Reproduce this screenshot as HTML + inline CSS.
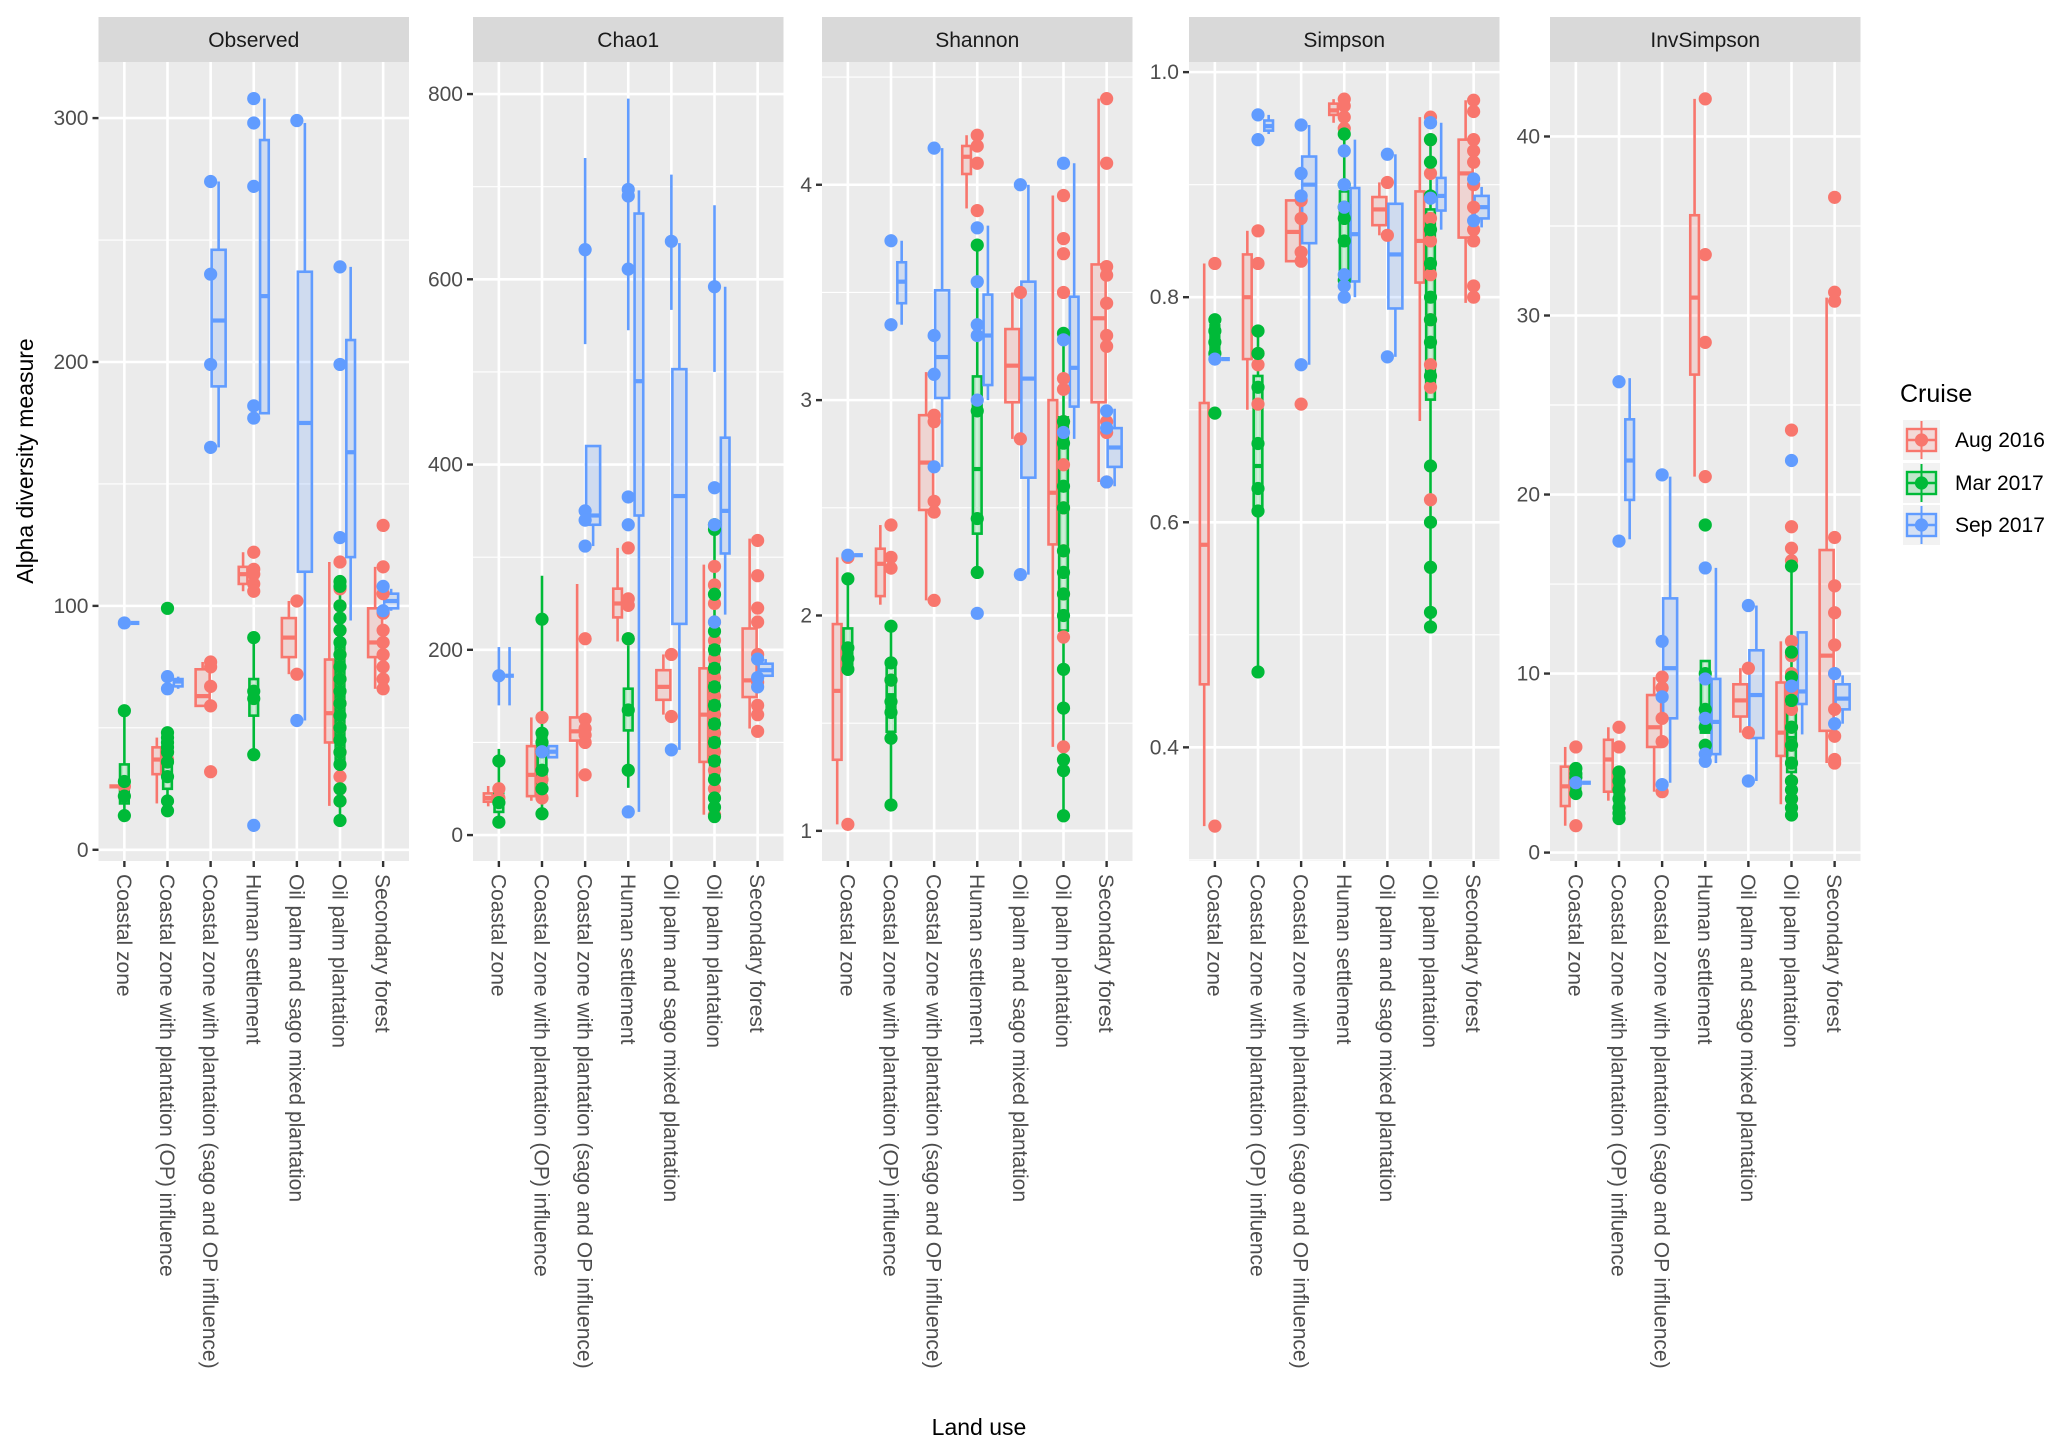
<!DOCTYPE html>
<html><head><meta charset="utf-8"><style>
html,body{margin:0;padding:0;background:#fff;}
svg{display:block;font-family:"Liberation Sans",Arial,sans-serif;}
</style></head><body>
<svg id="chart" width="2067" height="1455" viewBox="0 0 2067 1455" xmlns="http://www.w3.org/2000/svg">
<text x="0" y="0" transform="translate(33,461) rotate(-90)" text-anchor="middle" font-size="23" fill="#000">Alpha diversity measure</text>
<text x="979" y="1435" text-anchor="middle" font-size="23" fill="#000">Land use</text>
<g>
<text x="1900" y="402" font-size="25" fill="#000">Cruise</text>
</g>
</svg>
<script>
const categories = ["Coastal zone","Coastal zone with plantation (OP) influence","Coastal zone with plantation (sago and OP influence)","Human settlement","Oil palm and sago mixed plantation","Oil palm plantation","Secondary forest"];
const cruises = ["Aug 2016","Mar 2017","Sep 2017"];
const metrics = ["Observed","Chao1","Shannon","Simpson","InvSimpson"];
const yTicks = [[0,100,200,300],[0,200,400,600,800],[1,2,3,4],[0.4,0.6,0.8,1.0],[0,10,20,30,40]];
const yTickLabels = [["0","100","200","300"],["0","200","400","600","800"],["1","2","3","4"],["0.4","0.6","0.8","1.0"],["0","10","20","30","40"]];
const yMinor = [[50,150,250],[100,300,500,700],[1.5,2.5,3.5,4.5],[0.3,0.5,0.7,0.9],[5,15,25,35]];
const yDomain = [[-4.6,323],[-28,834.6],[0.86,4.57],[0.299,1.009],[-0.47,44.16]];

const obsBoxes = [
 [[26,26,26,26,26],[14,19,27,35,57],[93,93,93,93,93]],
 [[19,31,37,42,46],[15,25,38,48,48],[66,67,69,70,71]],
 [[59,59,63,74,77],null,[165,190,217,246,274]],
 [[106,109,113,116,122],[39,55,64,70,87],[179,179,227,291,308]],
 [[72,79,87,95,102],null,[53,114,175,237,298]],
 [[18,44,56,78,118],[12,35,63,85,110],[94,120,163,209,239]],
 [[66,79,85,99,116],null,[98,99,102,105,107]]];
const obsPoints = [
 [[26],[57,14,22,28],[93]],
 [[37,40],[99,48,46,44,42,40,36,30,20,16],[71,66]],
 [[77,75,67,59,32],[],[274,236,199,165]],
 [[122,115,113,109,106],[87,65,62,39],[308,298,272,182,177,10]],
 [[102,72],[],[299,53]],
 [[118,107,100,90,80,70,60,50,40,30,25,20],[110,108,100,95,90,85,80,75,70,65,60,55,50,45,40,35,25,20,12],[239,199,128]],
 [[133,116,105,97,90,85,80,75,70,66],[],[108,98]]];
const chaoBoxes = [
 [[31,36,40,45,53],[14,25,35,46,93],[140,172,172,172,203]],
 [[37,42,65,96,127],[23,56,90,107,280],[84,84,90,96,96]],
 [[41,102,112,127,271],null,[312,335,345,420,420]],
 [[209,235,250,266,310],[51,113,135,158,205],[25,345,490,671,696]],
 [[130,146,160,178,195],null,[92,228,366,503,639]],
 [[22,79,130,180,292],[15,65,130,204,338],[238,304,350,429,592]],
 [[115,149,167,223,320],null,[172,172,178,185,190]]];
const chaoPoints = [
 [[50,40],[80,35,14],[172]],
 [[127,60,40],[233,110,100,90,70,50,23],[90]],
 [[212,125,115,108,100,65],[],[632,350,340,312]],
 [[310,255,248,212],[212,135,70],[697,690,611,365,335,25]],
 [[195,128],[],[641,92]],
 [[290,270,250,230,210,190,170,150,130,110,90,70,50,22],[335,330,260,220,200,180,160,140,120,100,80,60,40,30,20],[592,375,335,230]],
 [[318,280,245,230,195,165,140,130,112],[],[190,170,160]]];
const chaoErrLo = [[[],[],[140]],[[],[],[]],[[],[],[530]],[[],[],[545]],[[],[],[567]],[[],[480],[500]],[[],[],[]]];
const chaoErrHi = [[[],[],[203]],[[],[],[]],[[],[],[731]],[[],[],[795]],[[],[],[713]],[[],[480],[680]],[[],[],[]]];
const shanBoxes = [
 [[1.03,1.33,1.65,1.96,2.27],[1.72,1.74,1.83,1.94,2.17],[2.28,2.28,2.28,2.28,2.28]],
 [[2.05,2.09,2.24,2.31,2.42],[1.12,1.46,1.63,1.77,1.95],[3.35,3.45,3.55,3.64,3.74]],
 [[2.07,2.49,2.71,2.93,3.13],null,[2.69,3.01,3.2,3.51,4.17]],
 [[3.89,4.05,4.13,4.18,4.23],[2.2,2.38,2.68,3.11,3.72],[3.0,3.07,3.3,3.49,3.81]],
 [[2.82,2.99,3.16,3.33,3.5],null,[2.19,2.64,3.1,3.55,4.0]],
 [[1.39,2.33,2.57,3.0,3.95],[1.07,1.93,2.6,2.92,3.31],[2.82,2.97,3.15,3.48,4.1]],
 [[2.62,2.99,3.38,3.63,4.4],null,[2.6,2.69,2.78,2.87,2.96]]];
const shanPoints = [
 [[2.27,1.03],[2.17,1.85,1.8,1.75],[2.28]],
 [[2.42,2.27,2.22,1.7],[1.95,1.78,1.7,1.6,1.55,1.43,1.12],[3.74,3.35]],
 [[2.93,2.9,2.53,2.48,2.07],[],[4.17,3.3,3.12,2.69]],
 [[4.23,4.18,4.1,3.88],[3.72,2.95,2.45,2.2],[3.8,3.55,3.35,3.3,3.0,2.01]],
 [[3.5,2.82],[],[4.0,2.19]],
 [[3.95,3.75,3.68,3.5,3.1,3.05,2.9,2.7,2.5,2.3,2.1,1.9,1.39],[3.31,2.9,2.8,2.6,2.5,2.3,2.2,2.1,2.0,1.75,1.57,1.33,1.28,1.07],[4.1,3.28,2.85]],
 [[4.4,4.1,3.62,3.58,3.45,3.3,3.25,2.9,2.85,2.62],[],[2.95,2.87,2.62]]];
const simpBoxes = [
 [[0.33,0.456,0.58,0.706,0.83],[0.743,0.743,0.76,0.775,0.782],[0.745,0.745,0.745,0.745,0.745]],
 [[0.7,0.745,0.8,0.838,0.859],[0.467,0.608,0.65,0.73,0.77],[0.945,0.948,0.952,0.957,0.962]],
 [[0.832,0.832,0.858,0.886,0.886],null,[0.74,0.848,0.9,0.925,0.953]],
 [[0.955,0.962,0.966,0.972,0.976],[0.81,0.814,0.873,0.894,0.946],[0.8,0.814,0.856,0.897,0.94]],
 [[0.855,0.864,0.878,0.889,0.902],null,[0.747,0.79,0.838,0.883,0.927]],
 [[0.69,0.813,0.85,0.894,0.96],[0.507,0.709,0.78,0.878,0.94],[0.86,0.877,0.89,0.906,0.955]],
 [[0.795,0.853,0.91,0.94,0.975],null,[0.862,0.87,0.88,0.89,0.898]]];
const simpPoints = [
 [[0.83,0.33],[0.78,0.77,0.76,0.75,0.697],[0.745]],
 [[0.859,0.83,0.75,0.74,0.705],[0.77,0.75,0.72,0.67,0.63,0.61,0.467],[0.962,0.94]],
 [[0.886,0.87,0.84,0.832,0.705],[],[0.953,0.91,0.89,0.74]],
 [[0.976,0.97,0.96,0.95],[0.945,0.9,0.88,0.87,0.85,0.815],[0.93,0.9,0.88,0.82,0.81,0.8]],
 [[0.902,0.855],[],[0.927,0.747]],
 [[0.96,0.94,0.91,0.87,0.85,0.82,0.78,0.74,0.72,0.62],[0.94,0.92,0.89,0.86,0.83,0.8,0.78,0.76,0.73,0.65,0.6,0.56,0.52,0.507],[0.955,0.955,0.888]],
 [[0.975,0.965,0.94,0.93,0.92,0.9,0.88,0.86,0.85,0.81,0.8],[],[0.905,0.868]]];
const invBoxes = [
 [[1.5,2.6,3.7,4.8,5.9],[3.2,3.2,4.2,4.7,4.7],[3.9,3.9,3.9,3.9,3.9]],
 [[2.9,3.4,5.2,6.3,7],[1.9,2.2,3.5,4.5,4.6],[17.5,19.7,21.9,24.2,26.5]],
 [[3.4,5.9,7,8.8,9.8],null,[3.9,7.5,10.3,14.2,21]],
 [[21,26.7,31,35.6,42.1],[6.7,6.7,7.7,10.7,10.7],[5,5.5,7.3,9.7,15.9]],
 [[6.7,7.6,8.5,9.4,10.3],null,[4,6.4,8.8,11.3,13.8]],
 [[2.7,5.4,6.7,9.5,11.8],[2.1,4.5,6.4,8.8,16],[6.6,8.3,9,12.3,12.3]],
 [[5,6.8,11,16.9,31],null,[7.2,8,8.6,9.4,9.9]]];
const invPoints = [
 [[5.9,1.5],[4.7,4.4,4.2,3.3],[3.9]],
 [[7,5.9,3.5],[4.5,4,3.5,3,2.5,2.2,1.9],[26.3,17.4]],
 [[9.8,9.2,7.5,6.2,3.4],[],[21.1,11.8,8.7,3.8]],
 [[42.1,33.4,28.5,21],[18.3,10,8,7,6],[15.9,9.7,7.5,5.5,5.1]],
 [[10.3,6.7],[],[13.8,4]],
 [[23.6,18.2,17,16.3,11.8,11,10,9,8,7,6,5,4,3],[16,11.2,9.8,8.5,7,6,5,4,3.5,3,2.5,2.1],[21.9,9.3]],
 [[36.6,31.3,30.8,17.6,14.9,13.4,11.6,10,8,6.5,5.2,5],[],[10,7.2]]];

const allBoxes = [obsBoxes, chaoBoxes, shanBoxes, simpBoxes, invBoxes];
const allPoints = [obsPoints, chaoPoints, shanPoints, simpPoints, invPoints];
const colors = ["#F8766D","#00BA38","#619CFF"];
const panelX0 = [98.5, 473, 822, 1189, 1550];
const panelW = 310.5, panelTop = 62, panelBot = 861, stripTop = 17;
const NS = "http://www.w3.org/2000/svg";
const svg = document.getElementById("chart");
function mk(tag, attrs, parent){const e=document.createElementNS(NS,tag);for(const k in attrs)e.setAttribute(k,attrs[k]);(parent||svg).appendChild(e);return e;}

metrics.forEach((m, pi) => {
  const x0 = panelX0[pi];
  const step = panelW / 7.2;
  const xc = ci => x0 + (0.6 + ci) * step;
  const [d0, d1] = yDomain[pi];
  const ys = v => panelBot - (v - d0) / (d1 - d0) * (panelBot - panelTop);
  const g = mk("g", {});
  
  
  const bg = mk("rect", {x:x0, y:panelTop, width:panelW, height:panelBot-panelTop, fill:"#EBEBEB"}, g);
  
  
  const strip = mk("rect", {x:x0, y:stripTop, width:panelW, height:panelTop-stripTop, fill:"#D9D9D9"}, g);
  
  
  const st = mk("text", {x:x0+panelW/2, y:47, "text-anchor":"middle", "font-size":21, fill:"#1a1a1a"}, g);
  st.textContent = m;
  
  
  yMinor[pi].forEach(v => { const y=ys(v); if(y>panelTop&&y<panelBot) mk("line",{x1:x0,x2:x0+panelW,y1:y,y2:y,stroke:"#fff","stroke-width":1.2},g); });
  yTicks[pi].forEach((v, ti) => {
    const y = ys(v);
    mk("line",{x1:x0,x2:x0+panelW,y1:y,y2:y,stroke:"#fff","stroke-width":2.6},g);
    mk("line",{x1:x0-6,x2:x0,y1:y,y2:y,stroke:"#333","stroke-width":2.4},g);
    const t = mk("text",{x:x0-10,y:y+7,"text-anchor":"end","font-size":21,fill:"#4d4d4d"},g);
    t.textContent = yTickLabels[pi][ti];
    
    
  });
  categories.forEach((c, ci) => {
    const x = xc(ci);
    mk("line",{x1:x,x2:x,y1:panelTop,y2:panelBot,stroke:"#fff","stroke-width":2.6},g);
    mk("line",{x1:x,x2:x,y1:panelBot,y2:panelBot+6,stroke:"#333","stroke-width":2.4},g);
    const t = mk("text",{x:0,y:0,transform:`translate(${x-7.5},${panelBot+13}) rotate(90)`,"font-size":21,fill:"#4d4d4d"},g);
    t.textContent = c;
    
    
  });
  const boxes = allBoxes[pi], pts = allPoints[pi];
  categories.forEach((c, ci) => {
    const present = [0,1,2].filter(k => boxes[ci][k]);
    const tw = 32, bw = tw / present.length;
    present.forEach((k, j) => {
      const b = boxes[ci][k];
      const bx = xc(ci) - tw/2 + j*bw;
      const mid = bx + bw/2;
      const bg2 = mk("g", {}, g);
      
      
      mk("line",{x1:mid,x2:mid,y1:ys(b[4]),y2:ys(b[3]),stroke:colors[k],"stroke-width":2.6},bg2);
      mk("line",{x1:mid,x2:mid,y1:ys(b[1]),y2:ys(b[0]),stroke:colors[k],"stroke-width":2.6},bg2);
      mk("rect",{x:bx+1,y:ys(b[3]),width:bw-2,height:Math.max(0,ys(b[1])-ys(b[3])),fill:colors[k],"fill-opacity":0.2,stroke:colors[k],"stroke-width":2.6},bg2);
      mk("line",{x1:bx+1,x2:bx+bw-1,y1:ys(b[2]),y2:ys(b[2]),stroke:colors[k],"stroke-width":4.2},bg2);
    });
  });
  if (pi === 1) {
    categories.forEach((c, ci) => [0,1,2].forEach(k => chaoErrLo[ci][k].forEach((lo, i) => {
      const e = mk("line",{x1:xc(ci),x2:xc(ci),y1:ys(lo),y2:ys(chaoErrHi[ci][k][i]),stroke:colors[k],"stroke-width":2.6},g);
      
      
    })));
  }
  categories.forEach((c, ci) => [0,1,2].forEach(k => pts[ci][k].forEach(v => {
    const p = mk("circle",{cx:xc(ci),cy:ys(v),r:6.6,fill:colors[k]},g);
    
    
  })));
});

const legendY = [440, 483, 525];
cruises.forEach((cr, k) => {
  const lg = mk("g", {});
  
  
  const y = legendY[k];
  mk("rect",{x:1903,y:y-20,width:37,height:40,fill:"#F2F2F2"},lg);
  mk("line",{x1:1921.5,x2:1921.5,y1:y-19,y2:y+19,stroke:colors[k],"stroke-width":2},lg);
  mk("rect",{x:1907,y:y-11,width:29,height:22,fill:colors[k],"fill-opacity":0.2,stroke:colors[k],"stroke-width":2.4},lg);
  mk("line",{x1:1907,x2:1936,y1:y,y2:y,stroke:colors[k],"stroke-width":2.4},lg);
  mk("circle",{cx:1921.5,cy:y,r:6.6,fill:colors[k]},lg);
  const t = mk("text",{x:1955,y:y+7,"font-size":21,fill:"#000"},lg);
  t.textContent = cr;
});
</script>
</body></html>
